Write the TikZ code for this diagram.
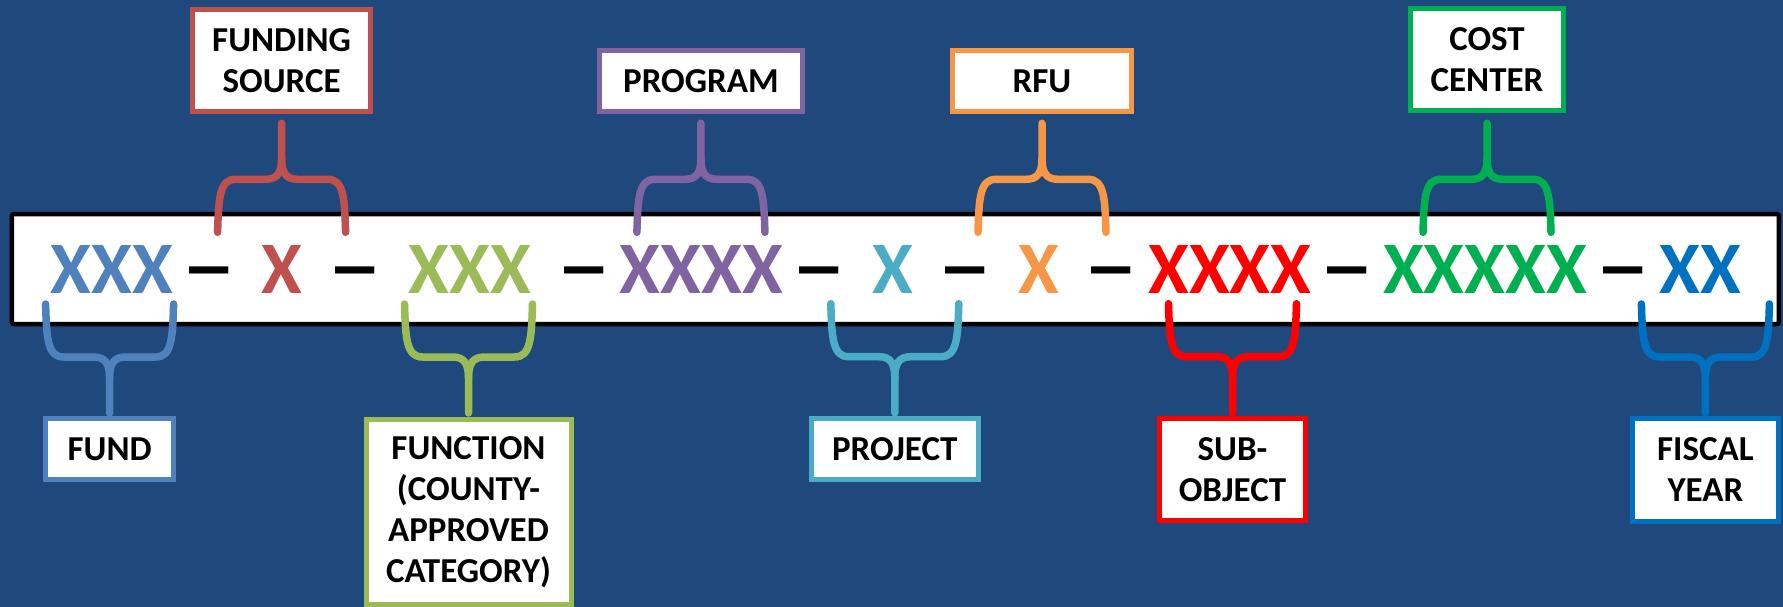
\documentclass[tikz,border=0pt]{standalone}
\usepackage{fontspec}
\setmainfont{Carlito}
\usetikzlibrary{calc}

\definecolor{slideblue}{HTML}{1F497D}
\definecolor{fundblue}{HTML}{4F81BD}
\definecolor{sourcered}{HTML}{C0504D}
\definecolor{funcgreen}{HTML}{9BBB59}
\definecolor{progpurple}{HTML}{8064A2}
\definecolor{projaqua}{HTML}{4BACC6}
\definecolor{rfuorange}{HTML}{F79646}
\definecolor{subred}{HTML}{FF0000}
\definecolor{costgreen}{HTML}{00B050}
\definecolor{yearblue}{HTML}{0070C0}

% the long dash between two code segments
\newcommand{\widedash}{\scalebox{1.5}[1.1]{–}}

\begin{document}
\begin{tikzpicture}[x=1pt,y=-1pt,
		codetext/.style={font=\bfseries\fontsize{74}{74}\selectfont, inner sep=0pt, anchor=base},
		tagbox/.style={draw=#1, line width=5pt, fill=white, text=black, inner sep=0pt, align=center,
			font=\bfseries\fontsize{35}{41}\selectfont},
		brace line/.style={line width=7.5pt, line cap=round, line join=round}]
		
		% Background and the white code bar
		\fill[slideblue] (0,0) rectangle (1783,607);
		\useasboundingbox (0,0) rectangle (1783,607);
		\node (codebar) [draw, line width=4.5pt, fill=white, rounded corners=2pt, inner sep=0pt,
			minimum width=1767pt, minimum height=110pt] at (895.4,269) {};
		
		% Code segments, all on one baseline
		\node[codetext, text=fundblue] (fundcode) at (112,293) {XXX};
		\node[codetext] (dash1) at (209,293) {\widedash};
		\node[codetext, text=sourcered] (sourcecode) at (282.3,293) {X};
		\node[codetext] (dash2) at (355.5,293) {\widedash};
		\node[codetext, text=funcgreen] (funccode) at (469.8,293) {XXX};
		\node[codetext] (dash3) at (584,293) {\widedash};
		\node[codetext, text=progpurple] (progcode) at (701.5,293) {XXXX};
		\node[codetext] (dash4) at (819,293) {\widedash};
		\node[codetext, text=projaqua] (projcode) at (892.6,293) {X};
		\node[codetext] (dash5) at (965.5,293) {\widedash};
		\node[codetext, text=rfuorange] (rfucode) at (1038.8,293) {X};
		\node[codetext] (dash6) at (1111.5,293) {\widedash};
		\node[codetext, text=subred] (subcode) at (1229.8,293) {XXXX};
		\node[codetext] (dash7) at (1347,293) {\widedash};
		\node[codetext, text=costgreen] (costcode) at (1485,293) {XXXXX};
		\node[codetext] (dash8) at (1623.5,293) {\widedash};
		\node[codetext, text=yearblue] (yearcode) at (1700.6,293) {XX};
		
		% Tags above the bar
		\node[tagbox=sourcered, minimum width=178pt, minimum height=102.6pt, anchor=south]
			(source) at (281.6,114.3) {FUNDING\\SOURCE};
		\node[tagbox=progpurple, minimum width=202.4pt, minimum height=61pt, anchor=south]
			(program) at (700.9,114.3) {PROGRAM};
		\node[tagbox=rfuorange, minimum width=179pt, minimum height=61pt, anchor=south]
			(rfu) at (1042,114.3) {RFU};
		\node[tagbox=costgreen, minimum width=152.8pt, minimum height=102.6pt, anchor=south]
			(cost) at (1487,113.3) {COST\\CENTER};
		
		% Tags below the bar
		\node[tagbox=fundblue, minimum width=127.8pt, minimum height=61pt, anchor=north]
			(fund) at (109.6,416) {FUND};
		\node[tagbox=funcgreen, minimum width=205pt, minimum height=184.7pt, anchor=north]
			(function) at (468.5,417.3) {FUNCTION\\(COUNTY-\\APPROVED\\CATEGORY)};
		\node[tagbox=projaqua, minimum width=166.8pt, minimum height=61.6pt, anchor=north]
			(project) at (894.8,415.7) {PROJECT};
		\node[tagbox=subred, minimum width=146pt, minimum height=102.6pt, anchor=north]
			(subobject) at (1232.5,415.7) {SUB-\\OBJECT};
		\node[tagbox=yearblue, minimum width=145.8pt, minimum height=103pt, anchor=north]
			(year) at (1705.4,416) {FISCAL\\YEAR};
		
		% A curly brace macro: tip at (#1), colour #2, #3 = 1 legs down, -1 legs up
		\newcommand{\codebrace}[3]{%
			\begin{scope}[shift={(#1)}, yscale=#3]
				\draw[brace line, #2] (-64,109) .. controls (-63,74) and (-62,56) .. (-46,56)
					-- (-16,56) .. controls (-4,56) and (0,49) .. (0,35) -- (0,0);
				\draw[brace line, #2] (64,109) .. controls (63,74) and (62,56) .. (46,56)
					-- (16,56) .. controls (4,56) and (0,49) .. (0,35);
			\end{scope}
		}
		
		\coordinate (source-tip) at ($(source.south)+(0,9)$);
		\coordinate (program-tip) at ($(program.south)+(0,9)$);
		\coordinate (rfu-tip) at ($(rfu.south)+(0,9)$);
		\coordinate (cost-tip) at ($(cost.south)+(0,10)$);
		\codebrace{source-tip}{sourcered}{1}
		\codebrace{program-tip}{progpurple}{1}
		\codebrace{rfu-tip}{rfuorange}{1}
		\codebrace{cost-tip}{costgreen}{1}
		
		\coordinate (fund-tip) at ($(fund.north)+(0,-3)$);
		\coordinate (function-tip) at ($(function.north)+(0,-4.3)$);
		\coordinate (project-tip) at ($(project.north)+(0,-3)$);
		\coordinate (subobject-tip) at ($(subobject.north)+(0,-3)$);
		\coordinate (year-tip) at ($(year.north)+(0,-3)$);
		\codebrace{fund-tip}{fundblue}{-1}
		\codebrace{function-tip}{funcgreen}{-1}
		\codebrace{project-tip}{projaqua}{-1}
		\codebrace{subobject-tip}{subred}{-1}
		\codebrace{year-tip}{yearblue}{-1}
	\end{tikzpicture}
\end{document}
